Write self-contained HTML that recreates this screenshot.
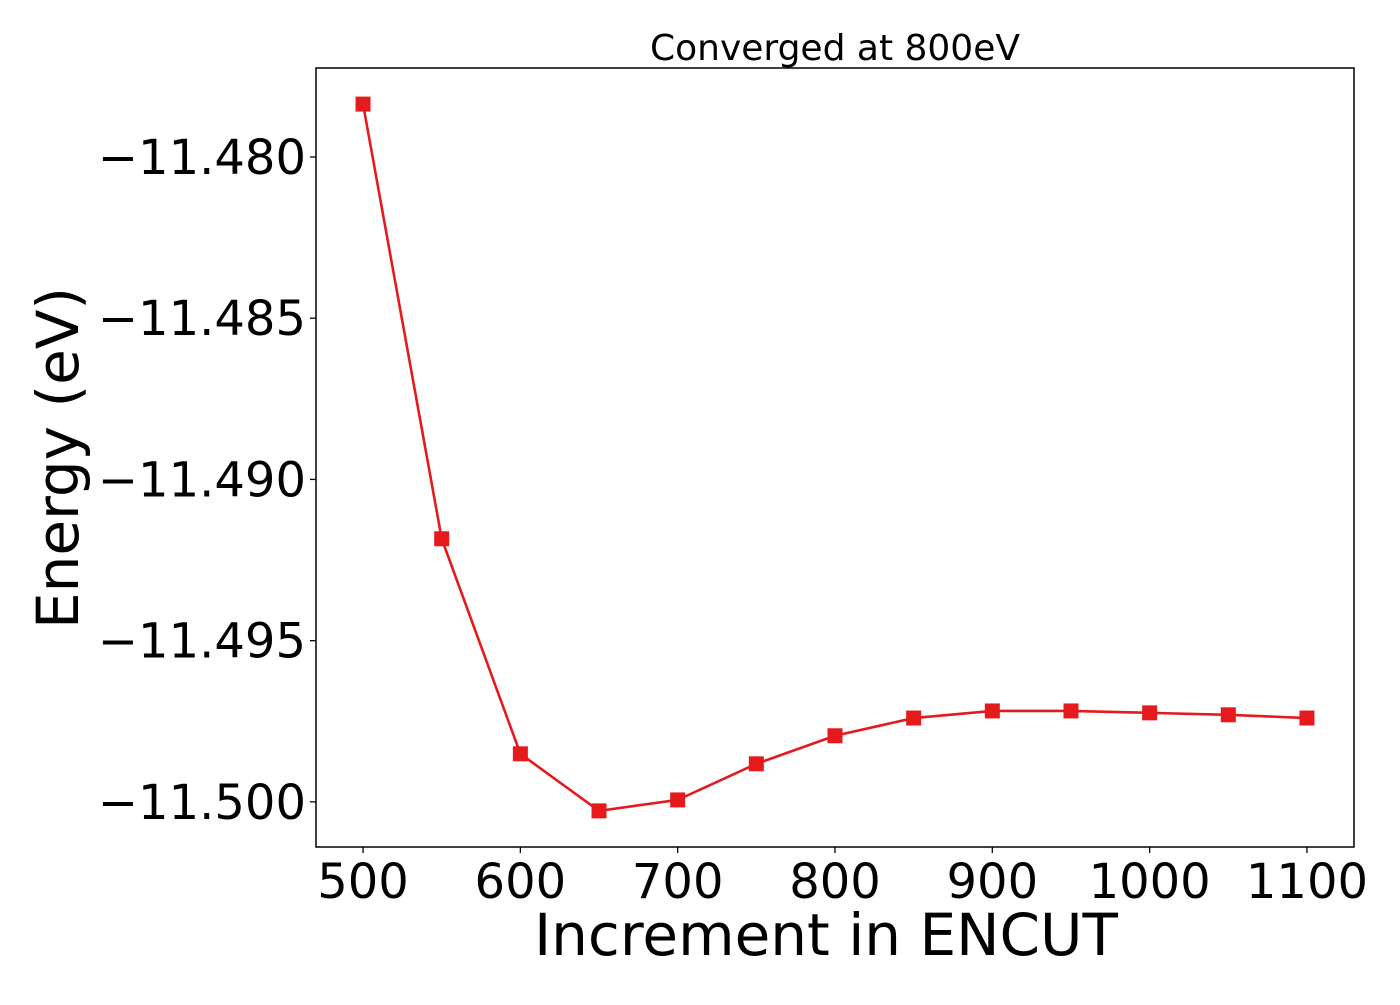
<!DOCTYPE html>
<html><head><meta charset="utf-8"><style>
body{margin:0;background:#fff}
svg text{font-family:"DejaVu Sans","Liberation Sans",sans-serif;fill:#000}
</style></head><body>
<svg id="chart" width="1400" height="1000" xmlns="http://www.w3.org/2000/svg">
<rect width="1400" height="1000" fill="#fff"/>
<g id="plot"></g>
</svg>
<script>
const categories=[500,550,600,650,700,750,800,850,900,950,1000,1050,1100];
const energies=[-11.47836,-11.49184,-11.49851,-11.50028,-11.49994,-11.49882,-11.49795,-11.49740,-11.49718,-11.49718,-11.49724,-11.49730,-11.49740];
const xTicks=[500,600,700,800,900,1000,1100];
const yTicks=[-11.480,-11.485,-11.490,-11.495,-11.500];
const yTickLabels=["−11.480","−11.485","−11.490","−11.495","−11.500"];
const L=316,R=1354,T=68,B=847;
const xMin=470.1,xMax=1129.9,yMin=-11.50140,yMax=-11.47724;
const xs=v=>L+(v-xMin)/(xMax-xMin)*(R-L);
const ys=v=>B-(v-yMin)/(yMax-yMin)*(B-T);
const NS="http://www.w3.org/2000/svg";
const g=document.getElementById('plot');
function mk(t,a,p){const e=document.createElementNS(NS,t);for(const k in a)e.setAttribute(k,a[k]);(p||g).appendChild(e);return e;}
const frame=mk('rect',{x:L,y:T,width:R-L,height:B-T,fill:'none',stroke:'#000','stroke-width':1.5});


xTicks.forEach(v=>{
 const tk=mk('line',{x1:xs(v),x2:xs(v),y1:B,y2:B+6,stroke:'#000','stroke-width':1.3});
 
 
 const t=mk('text',{x:xs(v),y:B+51,'text-anchor':'middle','font-size':48});
 t.textContent=v;
 
 
});
yTicks.forEach((v,i)=>{
 const tk=mk('line',{x1:L-6,x2:L,y1:ys(v),y2:ys(v),stroke:'#000','stroke-width':1.3});
 
 
 const t=mk('text',{x:L-10,y:ys(v)+17,'text-anchor':'end','font-size':48});
 t.textContent=yTickLabels[i];
 
 
});
const pts=categories.map((c,i)=>xs(c)+','+ys(energies[i])).join(' ');
const line=mk('polyline',{points:pts,fill:'none',stroke:'#e41a1c','stroke-width':2.6});


categories.forEach((c,i)=>{
 const m=mk('rect',{x:xs(c)-7.5,y:ys(energies[i])-7.5,width:15,height:15,fill:'#e41a1c'});
 
 
});
const title=mk('text',{x:835,y:60,'text-anchor':'middle','font-size':36});
title.textContent='Converged at 800eV';


const xl=mk('text',{x:826,y:955,'text-anchor':'middle','font-size':58});
xl.textContent='Increment in ENCUT';


const yl=mk('text',{x:0,y:0,'text-anchor':'middle','font-size':58,transform:'translate(78,458) rotate(-90)'});
yl.textContent='Energy (eV)';


</script>
</body></html>
